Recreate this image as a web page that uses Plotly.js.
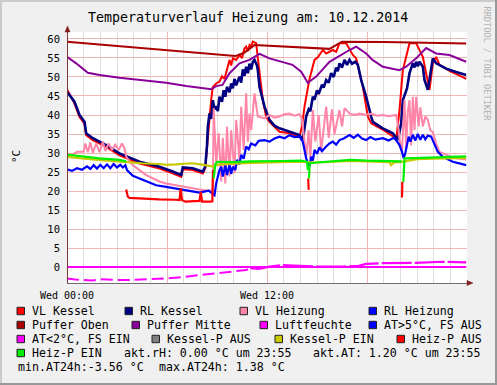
<!DOCTYPE html>
<html><head><meta charset="utf-8">
<script src="https://cdn.plot.ly/plotly-3.0.1.min.js"></script>
<style>html,body{margin:0;padding:0;background:#f0f0f0}#chart{width:497px;height:385px}</style>
</head><body><div id="chart"></div>
<script>
// ---------------- DATA (hours since 00:00, °C) ----------------
const chartTitle = 'Temperaturverlauf Heizung am: 10.12.2014';
const xTickVals = [0, 6, 12, 18];
const xTickText = ['Wed 00:00', '', 'Wed 12:00', ''];
const yUnit = '°C';

const seriesNames = ['VL Kessel','RL Kessel','VL Heizung','RL Heizung','Puffer Oben','Puffer Mitte','Luftfeuchte','AT>5°C, FS AUS','AT<2°C, FS EIN','Kessel-P AUS','Kessel-P EIN','Heiz-P AUS','Heiz-P EIN'];
const seriesColors = ['#ff0000','#000080','#ff85a8','#0000ff','#aa0000','#880099','#ff00ff','#0000ff','#ff00ff','#808080','#c8c800','#ff0000','#00ee00'];

const vlKesselT = [0,0.3,0.45,0.75,1.05,1.15,1.55,2.35,3.15,4.35,5.55,6.3,6.85,6.95,7.55,8.15,8.3,8.45,8.55,8.65,8.75,8.95,9.15,9.3,9.45,9.6,9.75,9.85,9.95,10.15,10.35,10.5,10.65,10.75,10.85,10.95,11.05,11.15,11.35,11.45,11.55,11.75,11.95,12.15,12.75,13.35,13.95,14.1,14.25,14.4,14.55,14.7,14.85,15.05,15.35,15.55,15.95,16.15,16.35,16.75,16.95,17.15,17.35,17.55,17.75,18.05,18.25,19.0,19.6,19.75,19.95,20.15,20.35,20.55,20.95,21.15,21.35,21.55,21.75,21.95,22.15,22.35,23.0,23.5,23.95];
const vlKesselV = [46.8,44.3,43.0,39.5,37.7,34.7,33.4,31.6,29.4,27.2,25.9,24.7,23.7,25.7,25.5,24.6,26.0,34.0,40.0,44.0,47.4,48.3,48.8,50.2,49.5,52.0,54.5,53.0,54.9,54.5,55.8,55.0,57.5,58.0,56.8,58.4,58.0,59.3,58.9,55.0,51.0,43.9,39.5,38.2,35.6,35.2,34.3,37.0,42.2,46.0,49.5,52.0,54.5,55.2,57.1,56.2,57.1,56.6,58.9,58.9,57.5,55.8,54.9,51.0,47.4,39.6,37.8,36.0,34.2,33.4,41.3,51.8,55.0,58.9,58.9,57.1,55.3,51.0,46.6,53.6,55.3,53.2,51.5,50.5,49.5];

const rlKesselT = [0,0.3,0.45,0.75,1.05,1.15,1.55,2.35,3.15,4.35,5.55,6.3,6.85,6.95,7.55,8.15,8.3,8.4,8.45,8.55,8.65,8.75,8.85,8.95,9.05,9.15,9.3,9.4,9.5,9.6,9.75,9.85,9.95,10.05,10.15,10.35,10.45,10.55,10.65,10.75,10.85,10.95,11.05,11.15,11.25,11.4,11.45,11.55,11.7,11.85,12.15,12.45,12.75,13.35,13.95,14.15,14.25,14.35,14.5,14.6,14.75,14.85,15.0,15.1,15.3,15.4,15.55,15.7,15.85,16.0,16.15,16.25,16.35,16.5,16.65,16.8,16.95,17.1,17.3,17.45,17.65,17.95,18.25,18.35,18.95,19.55,19.85,20.05,20.15,20.3,20.4,20.55,20.75,20.85,20.95,21.05,21.15,21.35,21.45,21.65,21.75,21.95,22.15,22.75,23.35,23.95];
const rlKesselV = [46.1,44.5,43.5,40.0,38.2,35.2,33.9,32.1,29.9,27.7,26.4,25.2,24.2,26.2,26.0,25.1,26.5,32.0,36.9,40.4,39.0,43.9,41.5,42.3,41.0,44.8,43.5,46.5,44.8,47.4,46.0,48.3,47.0,49.5,47.8,50.1,48.5,52.0,50.3,52.7,51.0,53.5,52.0,54.0,54.5,53.0,51.8,47.4,44.5,42.2,38.7,37.2,36.5,35.6,34.7,33.4,36.0,39.6,41.5,41.0,44.8,44.0,46.5,45.5,48.0,47.2,49.2,48.5,51.0,50.0,52.5,51.5,53.6,52.5,54.5,53.2,54.5,53.5,54.0,53.2,49.2,44.8,39.6,38.2,36.5,35.2,33.4,37.8,43.9,45.5,47.0,51.0,53.6,52.5,54.0,52.8,54.0,52.7,49.2,46.6,49.2,54.9,53.6,52.2,51.3,50.5];

const vlHeizungT = [0,0.3,0.6,1.0,1.1,1.25,1.4,1.55,1.75,1.95,2.15,2.3,2.5,2.7,2.9,3.1,3.3,3.45,3.55,3.95,4.75,5.55,5.95,6.95,7.95,8.55,8.75,8.8,8.95,9.1,9.25,9.35,9.5,9.6,9.75,9.85,10.05,10.15,10.35,10.45,10.6,10.75,10.85,10.95,11.05,11.25,11.45,11.85,12.15,12.45,12.75,13.05,13.35,13.65,13.95,14.1,14.25,14.35,14.5,14.6,14.75,14.9,15.1,15.25,15.55,15.7,15.9,16.05,16.35,16.5,16.65,16.95,17.25,17.55,17.9,18.25,18.6,18.95,19.3,19.75,19.9,19.95,20.1,20.25,20.35,20.45,20.55,20.65,20.75,20.85,20.95,21.1,21.2,21.35,21.5,21.65,21.8,21.95,22.15,22.35,22.75,23.35,23.95];
const vlHeizungV = [29.9,29.5,30.3,30.3,32.5,30.2,32.8,30.0,32.5,30.2,33.0,30.5,32.5,30.8,32.2,30.8,32.5,31.2,29.0,26.8,24.2,22.5,22.0,21.1,20.4,20.1,20.3,41.8,27.3,35.2,22.5,34.0,22.0,36.9,23.8,36.0,24.7,38.7,28.2,42.2,30.8,45.7,33.0,40.4,36.0,45.7,39.6,39.1,40.0,39.3,39.6,40.2,40.4,39.8,40.2,39.0,31.7,29.0,36.0,28.5,41.3,33.0,40.0,30.5,42.2,34.0,41.5,35.0,41.3,37.0,41.8,40.4,40.0,40.4,40.1,40.3,39.8,40.0,39.7,40.0,36.0,33.4,30.5,43.9,31.0,41.0,43.9,32.0,44.8,36.0,44.8,37.0,42.0,37.0,39.6,38.7,36.0,35.5,32.5,30.3,29.5,28.6,28.3];

const rlHeizungT = [0,0.3,0.6,0.9,1.2,1.4,1.6,1.8,2.0,2.2,2.4,2.6,2.8,3.0,3.2,3.35,3.5,3.6,3.95,4.55,5.35,5.95,7.15,7.95,8.5,8.75,8.85,8.95,9.15,9.25,9.35,9.5,9.6,9.75,9.85,9.95,10.1,10.2,10.35,10.45,10.6,10.75,10.9,11.05,11.3,11.5,11.85,12.15,12.45,12.75,13.05,13.35,13.65,13.95,14.15,14.35,14.45,14.55,14.65,14.75,14.85,15.0,15.15,15.3,15.55,15.75,15.95,16.15,16.35,16.6,16.95,17.2,17.45,17.7,17.95,18.2,18.5,18.95,19.3,19.6,19.75,19.95,20.1,20.2,20.3,20.4,20.5,20.6,20.75,20.9,21.05,21.2,21.35,21.5,21.65,21.85,22.05,22.25,22.55,23.15,23.95];
const rlHeizungV = [25.7,25.3,26.0,25.6,26.5,25.8,26.8,25.9,26.9,26.0,27.0,26.0,27.1,26.2,26.9,26.2,26.8,25.5,24.0,22.9,21.5,21.1,20.1,19.6,20.1,19.4,18.9,22.0,25.5,26.4,23.8,26.8,24.2,27.0,24.5,26.4,25.5,28.2,27.0,29.5,28.5,31.7,31.0,32.5,32.0,33.2,33.4,33.0,33.8,34.3,33.9,34.7,34.2,34.3,33.0,28.6,27.5,26.5,29.0,28.0,30.8,29.8,31.5,30.5,31.7,32.5,33.0,32.2,33.4,33.8,34.7,34.0,34.8,33.8,33.4,34.2,33.5,33.9,33.3,34.0,33.4,32.1,30.3,28.6,30.0,32.5,34.3,33.0,34.8,33.3,35.0,33.5,34.8,33.6,34.6,34.3,32.5,30.3,29.0,27.7,26.8];

const pufferObenT = [0,10.1,10.6,11.25,15.75,16.5,19,23.95];
const pufferObenV = [59.3,55.5,56.3,58.4,57.4,59.3,59.2,58.8];

const pufferMitteT = [0,0.55,1.25,1.95,3.15,5.95,7.15,8.65,8.95,9.33,9.75,10.35,10.95,11.55,12.15,13.53,14.05,14.45,14.95,15.75,16.95,17.35,17.95,18.33,18.95,19.95,20.35,20.95,21.55,22.15,22.95,23.95];
const pufferMitteV = [55.3,53.6,51.1,50.5,49.8,48.5,47.6,46.8,47.6,47.9,51.0,53.6,54.5,56.1,54.9,53.2,51.4,48.5,50.1,54.0,57.1,58.0,56.2,54.5,52.7,51.8,52.7,54.9,57.6,56.2,55.8,54.0];

const luftfeuchteT = [0,6,12,18,23.95];
const luftfeuchteV = [0,0,0,0,0];

const atUeber5T = [];
const atUeber5V = [];

const atUnter2T = [0,0.5,1,1.5,2,3,4,5,6,7,8,9,10,10.75,11,11.5,12.15,12.95,13.95,14.95,16.55,17.5,17.95,18.95,20.95,22.5,23.95];
const atUnter2V = [-3.0,-3.3,-3.4,-3.56,-3.2,-3.4,-3.4,-3.2,-3.0,-2.6,-2.1,-1.7,-1.2,-0.8,-0.3,-0.5,0.1,0.5,0.3,0.1,0.1,0.3,0.8,1.0,1.1,1.38,1.2];

const kesselPAusT = [];
const kesselPAusV = [];

const kesselPEinT = [0,1,2,3,3.55,4.5,5.5,6,6.5,7,7.5,8,8.5,8.8,9,9.5,10,11,12,13,14,15,16,17,18,19,19.35,19.45,19.6,20,20.5,21,22,23,23.95];
const kesselPEinV = [29.0,28.5,28.1,27.8,27.6,27.3,27.1,26.9,27.0,27.2,27.3,27.0,26.6,26.4,26.9,27.1,27.2,27.4,27.5,27.6,27.7,27.5,27.7,27.9,27.8,27.7,27.6,26.8,27.5,27.6,28.1,28.4,28.5,28.6,28.7];

const heizPAusT = [3.55,3.65,3.75,4.5,5.5,6.5,6.75,6.82,6.9,7.1,7.95,8.03,8.1,8.6,8.72,8.76,8.8,14.47,14.5,14.6,20.1,20.12];
const heizPAusV = [20.4,18.5,18.2,18.0,17.8,17.7,17.6,20.7,17.6,17.2,17.4,19.8,17.2,17.2,17.3,25.5,null,23.3,20.3,null,18.3,22.4];

const heizPEinT = [0,0.5,1.05,1.95,3.15,3.55,3.6,8.8,8.9,9.0,10,11,12,13,14,14.4,14.45,14.48,14.52,14.56,15,16,17,18,19,20.08,20.12,20.18,20.25,20.35,21,22,23,23.95];
const heizPEinV = [29.6,29.3,29.0,28.6,28.2,27.8,null,23.3,27.0,27.7,27.6,27.8,27.8,27.9,28.0,27.7,25.5,null,23.3,27.3,27.5,27.9,28.2,28.0,27.9,27.8,null,22.4,28.6,28.6,28.7,28.9,29.0,29.1];

const commentLines = ['akt.rH: 0.00 °C um 23:55','akt.AT: 1.20 °C um 23:55','min.AT24h:-3.56 °C','max.AT24h: 1.38 °C'];
const watermark = 'RRDTOOL / TOBI OETIKER';

// ---------------- PLOT ----------------
const FONT = 'DejaVu Sans Mono';
const W = 497, H = 385, PL = 67, PR = 467, PT = 32, PB = 283;
const px = x => (x - PL) / (PR - PL);
const py = y => (PB - y) / (PB - PT);
const esc = s => s.replace(/&/g,'&amp;').replace(/</g,'&lt;').replace(/>/g,'&gt;');

const seriesData = [
  [vlKesselT, vlKesselV], [rlKesselT, rlKesselV], [vlHeizungT, vlHeizungV], [rlHeizungT, rlHeizungV],
  [pufferObenT, pufferObenV], [pufferMitteT, pufferMitteV], [luftfeuchteT, luftfeuchteV], [atUeber5T, atUeber5V],
  [atUnter2T, atUnter2V], [kesselPAusT, kesselPAusV], [kesselPEinT, kesselPEinV], [heizPAusT, heizPAusV], [heizPEinT, heizPEinV]
];
const widths = [2, 2.6, 2, 2.2, 2, 2, 2, 2, 2, 2, 2.2, 2.2, 2.2];
const traces = [];
seriesData.forEach((d, i) => {
  if (i === 8) {
    // outside temperature: patchy (dashed) samples in the night, denser after noon
    const early = d[0].map((t, k) => k).filter(k => d[0][k] <= 11);
    const late = d[0].map((t, k) => k).filter(k => d[0][k] >= 11);
    traces.push({type:'scatter', mode:'lines', x: early.map(k => d[0][k]), y: early.map(k => d[1][k]),
      line:{color: seriesColors[i], width: 2, dash: '12px,5px'}, hoverinfo:'skip'});
    traces.push({type:'scatter', mode:'lines', x: late.map(k => d[0][k]), y: late.map(k => d[1][k]),
      line:{color: seriesColors[i], width: 2.2, dash: '30px,3px'}, hoverinfo:'skip'});
    return;
  }
  traces.push({
    type: 'scatter', mode: 'lines', x: d[0], y: d[1], name: seriesNames[i],
    line: {color: seriesColors[i], width: widths[i]},
    connectgaps: false, hoverinfo: 'skip'
  });
});

const MGRID = '#efb6b6';
const shapes = [];
const annotations = [];

// frame shading
shapes.push({type:'line', xref:'paper', yref:'paper', x0:px(0), x1:px(W), y0:py(1), y1:py(1), line:{color:'#cbcbcb', width:2}});
shapes.push({type:'line', xref:'paper', yref:'paper', x0:px(1), x1:px(1), y0:py(0), y1:py(H), line:{color:'#cbcbcb', width:2}});
shapes.push({type:'line', xref:'paper', yref:'paper', x0:px(0), x1:px(W), y0:py(H-1), y1:py(H-1), line:{color:'#999999', width:2}});
shapes.push({type:'line', xref:'paper', yref:'paper', x0:px(W-1), x1:px(W-1), y0:py(0), y1:py(H), line:{color:'#999999', width:2}});

// axis arrows
shapes.push({type:'line', xref:'paper', yref:'paper', x0:px(67.5), x1:px(67.5), y0:py(PB), y1:py(28), line:{color:'#7a3a3a', width:1}});
shapes.push({type:'path', xref:'paper', yref:'paper', path:`M ${px(65)} ${py(32)} L ${px(70)} ${py(32)} L ${px(67.5)} ${py(26)} Z`, fillcolor:'#7f1f1f', line:{color:'#7f1f1f', width:0.5}});
shapes.push({type:'path', xref:'paper', yref:'paper', path:`M ${px(467)} ${py(280.5)} L ${px(467)} ${py(285.5)} L ${px(473)} ${py(283)} Z`, fillcolor:'#7f1f1f', line:{color:'#7f1f1f', width:0.5}});

// title, unit, watermark
annotations.push({xref:'paper', yref:'paper', x:px(248), y:py(17), text:chartTitle, showarrow:false, xanchor:'center', yanchor:'middle', font:{family:FONT, size:13.3, color:'#000'}});
annotations.push({xref:'paper', yref:'paper', x:px(16), y:py(157), text:yUnit, textangle:-90, showarrow:false, xanchor:'center', yanchor:'middle', font:{family:FONT, size:11, color:'#000'}});
annotations.push({xref:'paper', yref:'paper', x:px(486.5), y:py(64), text:watermark, textangle:90, showarrow:false, xanchor:'center', yanchor:'middle', font:{family:FONT, size:8.6, color:'#b4b4b4'}});

// legend (RRDtool style)
const legendSquares = [[17,311],[125,311],[240,311],[369,311],[17,325],[132,325],[260,325],[369,325],[17,339],[152,339],[275,339],[397,339],[17,353]];
const LFS = 11.6;
seriesNames.forEach((n, i) => {
  const [sx, sy] = legendSquares[i];
  shapes.push({type:'rect', xref:'paper', yref:'paper', x0:px(sx), x1:px(sx+7.5), y0:py(sy+3.7), y1:py(sy-3.7), fillcolor:seriesColors[i], line:{color:'#222', width:1}});
  annotations.push({xref:'paper', yref:'paper', x:px(sx+13.5), y:py(sy), text:esc(n), showarrow:false, xanchor:'left', yanchor:'middle', borderpad:0, font:{family:FONT, size:LFS, color:'#000'}});
});
const commentPos = [[123,353],[312,353],[17,367],[158,367]];
commentLines.forEach((c, i) => {
  annotations.push({xref:'paper', yref:'paper', x:px(commentPos[i][0]), y:py(commentPos[i][1]), text:esc(c), showarrow:false, xanchor:'left', yanchor:'middle', borderpad:0, font:{family:FONT, size:LFS, color:'#000'}});
});

const layout = {
  width: W, height: H,
  margin: {l: PL, r: W - PR, t: PT, b: H - PB, pad: 0},
  paper_bgcolor: '#f0f0f0', plot_bgcolor: '#ffffff',
  font: {family: FONT, size: 10, color: '#000'},
  showlegend: false,
  xaxis: {
    range: [0, 24], tickmode: 'array', tickvals: xTickVals, ticktext: xTickText,
    showgrid: true, gridcolor: MGRID, gridwidth: 1,
    minor: {tickmode: 'linear', tick0: 0, dtick: 1, showgrid: true, gridcolor: '#dedede', gridwidth: 1, ticks: ''},
    showline: true, linecolor: '#707070', linewidth: 1, zeroline: false, ticks: '',
    ticklabelstandoff: 3, tickfont: {family: FONT, size: 10}, fixedrange: true
  },
  yaxis: {
    range: [-4.21, 61.84], tickmode: 'linear', tick0: 0, dtick: 5,
    showgrid: true, gridcolor: MGRID, gridwidth: 1, zeroline: false,
    showline: false, ticks: '', ticklabelstandoff: 6,
    tickfont: {family: FONT, size: 10.5}, fixedrange: true
  },
  shapes: shapes, annotations: annotations
};

Plotly.newPlot('chart', traces, layout, {staticPlot: true, displayModeBar: false});
</script></body></html>
